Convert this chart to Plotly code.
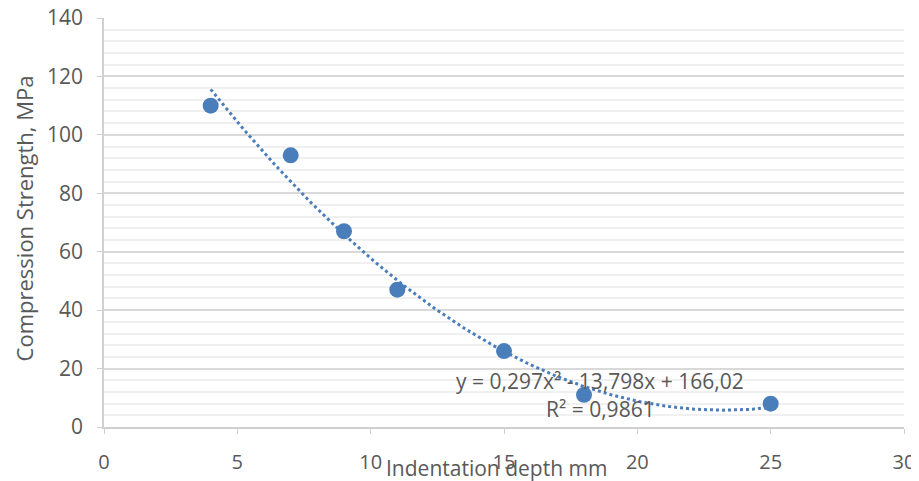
import numpy as np
import plotly.graph_objects as go

depth = [4, 7, 9, 11, 15, 18, 25]
strength = [110, 93, 67, 47, 26, 11, 8]
trend_coefs = [0.297, -13.798, 166.02]
x_ticks = [0, 5, 10, 15, 20, 25, 30]
y_ticks = [0, 20, 40, 60, 80, 100, 120, 140]
eq_text = "y = 0,297x² - 13,798x + 166,02"
r2_text = "R² = 0,9861"

tx = np.linspace(min(depth), max(depth), 200)
ty = np.polyval(trend_coefs, tx)

font_fam = "Open Sans, Liberation Sans, sans-serif"
txt_col = "#595959"

fig = go.Figure()
fig.add_trace(go.Scatter(x=tx, y=ty, mode="lines",
                         line=dict(color="#4a7ebb", width=3, dash="dot"),
                         hoverinfo="skip", showlegend=False))
fig.add_trace(go.Scatter(x=depth, y=strength, mode="markers",
                         marker=dict(color="#4a7ebb", size=16),
                         showlegend=False))

fig.update_layout(
    width=911, height=473,
    margin=dict(l=96, r=15, t=10, b=54),
    paper_bgcolor="white", plot_bgcolor="white",
    font=dict(family=font_fam, color=txt_col, size=20),
    xaxis=dict(range=[0, 30], tickvals=x_ticks, showgrid=False, zeroline=False,
               showline=True, linecolor="#d0d0d0", linewidth=1.5, automargin=False,
               ticks="outside", ticklen=5, tickcolor="#d0d0d0", ticklabeloverflow="allow",
               tickfont=dict(size=20, color=txt_col), ticklabelstandoff=11),
    yaxis=dict(range=[0, 140], tickvals=y_ticks, showgrid=True, gridcolor="#d9d9d9",
               gridwidth=1.5, zeroline=False, automargin=False,
               showline=True, linecolor="#d0d0d0", linewidth=1.5,
               ticks="outside", ticklen=5, tickcolor="#d0d0d0", ticklabeloverflow="allow",
               tickfont=dict(size=21, color=txt_col), ticklabelstandoff=10,
               minor=dict(dtick=4, showgrid=True, gridcolor="#f0f0f0", gridwidth=1.5)),
    annotations=[
        dict(text="Indentation depth mm", xref="paper", yref="paper", x=0.49, y=0,
             yshift=-41, showarrow=False, font=dict(size=21, color=txt_col),
             xanchor="center", yanchor="middle"),
        dict(text="Compression Strength, MPa", xref="paper", yref="paper", x=0, y=0.51,
             xshift=-80, textangle=-90, showarrow=False, font=dict(size=22, color=txt_col),
             xanchor="center", yanchor="middle"),
        dict(text=eq_text, x=18.6, y=15.6, showarrow=False,
             font=dict(size=21, color=txt_col), xanchor="center", yanchor="middle"),
        dict(text=r2_text, x=18.6, y=6.0, showarrow=False,
             font=dict(size=21, color=txt_col), xanchor="center", yanchor="middle"),
    ],
)

fig.write_html("out.html")
